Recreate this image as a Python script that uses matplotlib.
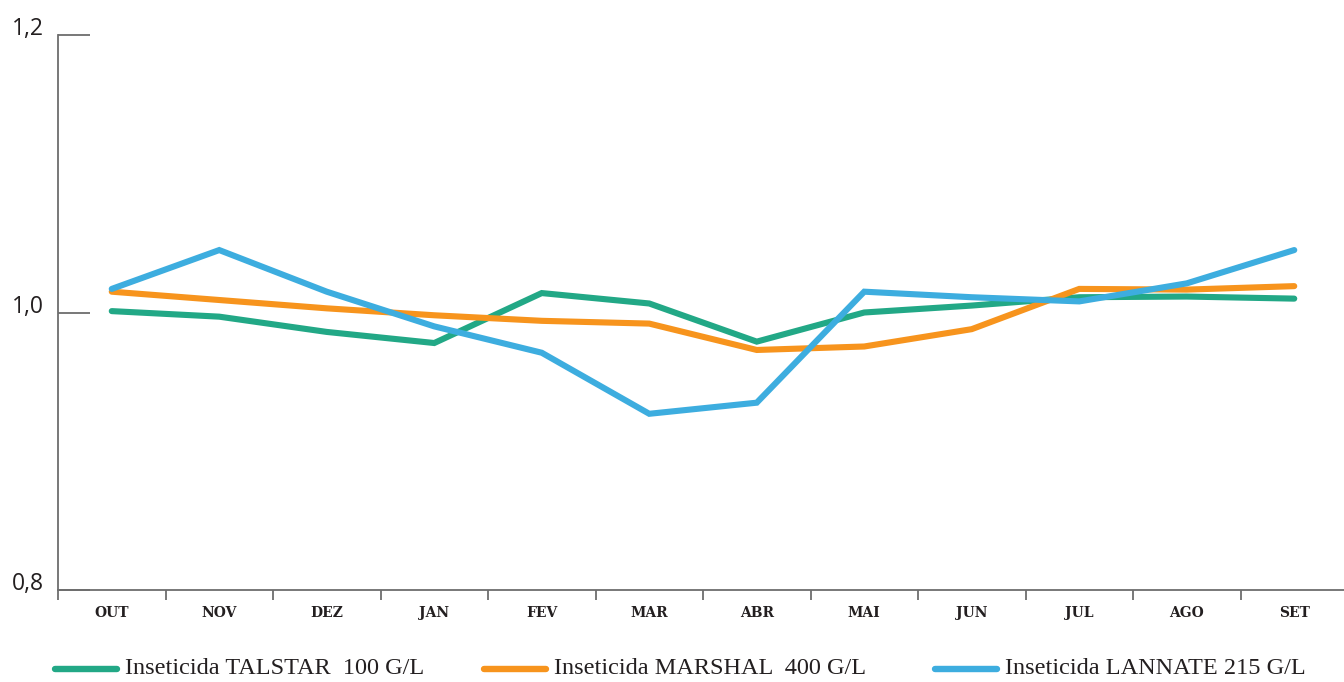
import matplotlib
matplotlib.use('Agg')
import matplotlib.pyplot as plt
from matplotlib.lines import Line2D

# meses (out -> set)
months = ['OUT', 'NOV', 'DEZ', 'JAN', 'FEV', 'MAR', 'ABR', 'MAI', 'JUN', 'JUL', 'AGO', 'SET']

talstar = [1.001, 0.997, 0.986, 0.978, 1.014, 1.0065, 0.979, 1.000, 1.005, 1.011, 1.0115, 1.010]
marshal = [1.015, 1.009, 1.003, 0.998, 0.994, 0.992, 0.973, 0.9755, 0.988, 1.017, 1.0165, 1.019]
lannate = [1.017, 1.045, 1.015, 0.990, 0.971, 0.927, 0.935, 1.015, 1.011, 1.008, 1.021, 1.045]

names = ['Inseticida TALSTAR  100 G/L', 'Inseticida MARSHAL  400 G/L', 'Inseticida LANNATE 215 G/L']
colors = ['#22A886', '#F7941D', '#3DADDF']

yticks = [0.8, 1.0, 1.2]
ylabels = ['0,8', '1,0', '1,2']

fig = plt.figure(figsize=(13.44, 6.82), dpi=100)
ax = fig.add_axes([58/1344, 1 - 590/682, 1290/1344, 555/682])

x = list(range(len(months)))
for vals, c in zip([talstar, marshal, lannate], colors):
    ax.plot(x, vals, color=c, lw=4.4, solid_capstyle='round', solid_joinstyle='miter')

ax.set_xlim(-0.5, len(months) - 0.5)
ax.set_ylim(0.8, 1.2)

axcol = '#6d6d6d'
for s in ['top', 'right']:
    ax.spines[s].set_visible(False)
for s in ['left', 'bottom']:
    ax.spines[s].set_color(axcol)
    ax.spines[s].set_linewidth(1.3)

# x: ticks between months, labels centered
ax.set_xticks([i - 0.5 for i in range(len(months) + 1)])
ax.set_xticklabels([])
ax.set_xticks(x, minor=True)
ax.set_xticklabels(months, minor=True, fontfamily='DejaVu Serif', fontweight='bold',
                   fontsize=10, color='#231F20')
ax.tick_params(axis='x', which='major', direction='out', length=7.5, width=1.3, color=axcol)
ax.tick_params(axis='x', which='minor', length=0, pad=11.5)

# y: short inward ticks, labels sitting on the tick
ax.set_yticks(yticks)
ax.set_yticklabels(ylabels, fontfamily='Open Sans', fontsize=16.5, color='#231F20', va='baseline')
ax.tick_params(axis='y', direction='in', length=23, width=1.3, color=axcol, pad=10)

# legend
leg_y = 1 - 669/682
starts = [55, 484, 935]
for st, name, c in zip(starts, names, colors):
    fig.add_artist(Line2D([st/1344, (st + 62)/1344], [leg_y, leg_y], color=c, lw=4.6,
                          solid_capstyle='round', transform=fig.transFigure))
    fig.text((st + 70)/1344, leg_y, name, fontfamily='Liberation Serif', fontsize=17.5,
             color='#231F20', va='center', ha='left')

fig.savefig('out.png', dpi=100)
